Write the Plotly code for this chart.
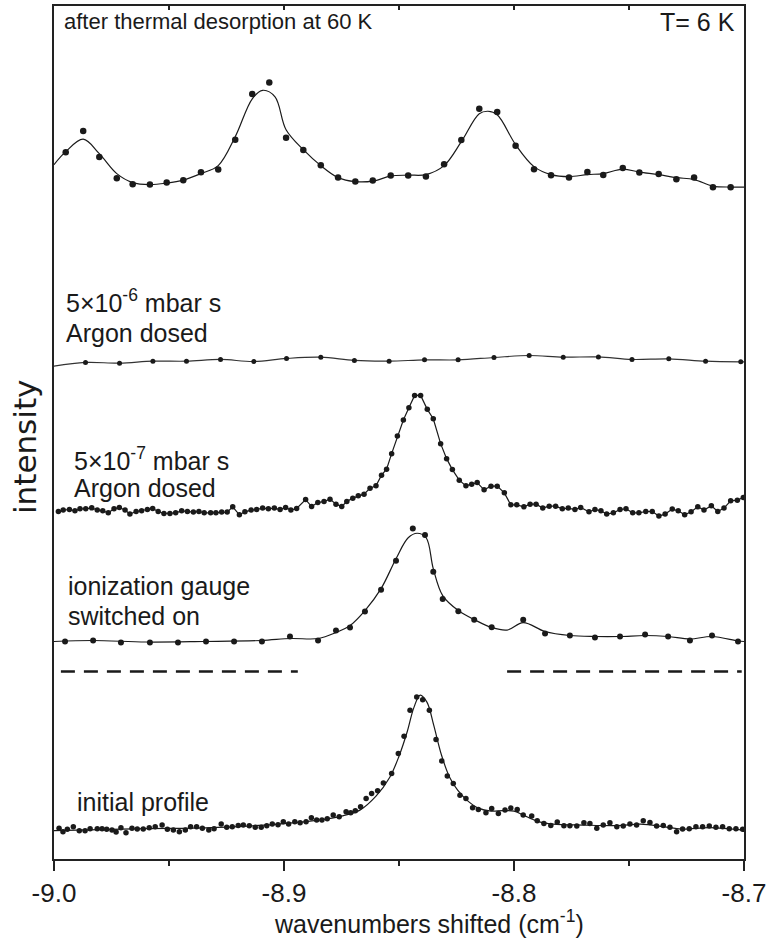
import plotly.graph_objects as go

# ---------------------------------------------------------------------------
# Spectra (wavenumber shift in cm^-1, intensity in arbitrary units above each
# spectrum's own baseline). Dots are measured points, *_fit are the fitted
# profiles drawn as thin curves.
# ---------------------------------------------------------------------------

# after thermal desorption at 60 K
thermal_x = [-8.9949, -8.9873, -8.9803, -8.9727, -8.9658, -8.9583, -8.9510, -8.9438,
             -8.9361, -8.9286, -8.9212, -8.9138, -8.9064, -8.8991, -8.8916, -8.8840,
             -8.8765, -8.8690, -8.8614, -8.8536, -8.8460, -8.8383, -8.8304, -8.8229,
             -8.8151, -8.8073, -8.7993, -8.7913, -8.7839, -8.7761, -8.7681, -8.7612,
             -8.7527, -8.7455, -8.7371, -8.7294, -8.7217, -8.7135, -8.7058]
thermal_y = [35.3, 56.7, 30.7, 9.3, 3.3, 3.0, 5.0, 7.3, 15.3, 18.0, 48.0, 93.7, 105.3,
             50.0, 37.7, 22.3, 10.0, 6.0, 7.0, 12.0, 12.0, 11.0, 23.3, 47.7, 79.0, 75.7,
             42.0, 18.3, 12.3, 10.0, 15.7, 12.7, 19.7, 15.0, 13.7, 8.3, 10.0, 0.3, 0.3]
thermal_fit_x = [-9.0, -8.9949, -8.9873, -8.9803, -8.9727, -8.9658, -8.9583, -8.9510,
                 -8.9438, -8.9361, -8.9286, -8.9212, -8.9138, -8.9093, -8.9039, -8.8991,
                 -8.8916, -8.8840, -8.8765, -8.8690, -8.8614, -8.8536, -8.8460, -8.8383,
                 -8.8304, -8.8229, -8.8151, -8.8113, -8.8073, -8.7993, -8.7913, -8.7839,
                 -8.7761, -8.7681, -8.7612, -8.7527, -8.7455, -8.7371, -8.7294, -8.7217,
                 -8.7135, -8.7058, -8.7]
thermal_fit_y = [23, 36, 48.5, 34, 14, 5, 3, 4.5, 7.5, 14, 22, 51, 89, 97.5, 91, 58,
                 38, 22, 10, 6, 6.5, 11.5, 12.5, 13, 22, 46, 74, 76.5, 73, 43, 21, 13,
                 11, 13, 14, 18.5, 15.5, 13, 10, 8, 1.5, 0.5, 0.5]

# 5x10^-6 mbar s Argon dosed
argon6_x = [-8.9863, -8.9715, -8.9570, -8.9424, -8.9276, -8.9131, -8.8989, -8.8840,
            -8.8694, -8.8543, -8.8389, -8.8243, -8.8087, -8.7934, -8.7786, -8.7633,
            -8.7487, -8.7327, -8.7167, -8.7014]
argon6_y = [0.7, 0.0, 2.0, 2.0, 3.7, 1.7, 4.7, 6.0, 2.7, 2.0, 3.3, 3.3, 5.7, 7.7, 6.0,
            6.3, 3.7, 4.3, 2.0, 1.3]
argon6_fit_x = [-9.0] + argon6_x + [-8.7]
argon6_fit_y = [-3.0] + argon6_y + [1.3]

# 5x10^-7 mbar s Argon dosed
argon7_x = [-8.9981, -8.9960, -8.9933, -8.9909, -8.9887, -8.9862, -8.9836, -8.9812,
            -8.9788, -8.9764, -8.9739, -8.9716, -8.9691, -8.9670, -8.9643, -8.9619,
            -8.9594, -8.9571, -8.9547, -8.9522, -8.9496, -8.9471, -8.9445, -8.9420,
            -8.9394, -8.9370, -8.9347, -8.9319, -8.9296, -8.9271, -8.9247, -8.9223,
            -8.9194, -8.9170, -8.9143, -8.9119, -8.9093, -8.9068, -8.9042, -8.9017,
            -8.8993, -8.8970, -8.8945, -8.8906, -8.8880, -8.8853, -8.8826, -8.8800,
            -8.8774, -8.8749, -8.8727, -8.8701, -8.8677, -8.8652, -8.8626, -8.8600,
            -8.8576, -8.8554, -8.8532, -8.8507, -8.8481, -8.8457, -8.8432, -8.8406,
            -8.8377, -8.8351, -8.8319, -8.8293, -8.8268, -8.8238, -8.8209, -8.8184,
            -8.8160, -8.8130, -8.8100, -8.8073, -8.8042, -8.8014, -8.7988, -8.7957,
            -8.7930, -8.7904, -8.7875, -8.7847, -8.7819, -8.7790, -8.7764, -8.7735,
            -8.7710, -8.7674, -8.7648, -8.7622, -8.7597, -8.7568, -8.7539, -8.7513,
            -8.7484, -8.7457, -8.7427, -8.7399, -8.7370, -8.7343, -8.7312, -8.7286,
            -8.7258, -8.7230, -8.7201, -8.7174, -8.7142, -8.7114, -8.7087, -8.7058,
            -8.7029, -8.7003]
argon7_y = [2.3, 3.7, 4.3, 3.0, 5.0, 5.0, 6.0, 3.7, 3.0, 1.0, 5.0, 6.3, 3.7, -0.3, 2.3,
            3.0, 4.3, 5.3, 2.3, 0.3, 0.3, 1.0, 3.0, 2.3, 1.7, 2.3, 1.0, 1.0, 1.0, 1.7,
            1.7, 7.0, -1.0, 2.0, 3.7, 4.3, 5.7, 5.0, 5.7, 4.3, 6.3, 3.7, 5.3, 14.3, 7.3,
            11.3, 12.3, 14.7, 9.7, 7.3, 12.3, 15.7, 18.0, 19.7, 25.7, 28.0, 38.7, 44.7,
            60.3, 78.0, 94.0, 106.3, 118.7, 118.7, 104.7, 95.3, 70.3, 55.3, 44.3, 33.7,
            28.0, 29.7, 31.3, 24.0, 27.7, 27.7, 21.0, 9.0, 9.0, 7.0, 9.7, 9.7, 5.7, 7.7,
            7.7, 5.0, 5.7, 4.3, 6.3, 2.0, 4.3, 3.0, -0.3, 1.0, 4.3, 5.0, 1.0, 1.0, 2.3,
            2.3, -2.3, -0.3, 4.7, 3.0, -1.0, 2.0, 7.0, 3.7, 8.0, 2.3, 5.7, 13.0, 13.7,
            16.3]

# ionization gauge switched on
gauge_x = [-8.9952, -8.9830, -8.9709, -8.9583, -8.9461, -8.9339, -8.9217, -8.9096,
           -8.8974, -8.8852, -8.8774, -8.8713, -8.8648, -8.8578, -8.8513, -8.8440,
           -8.8387, -8.8351, -8.8310, -8.8242, -8.8173, -8.8097, -8.7960, -8.7865,
           -8.7757, -8.7648, -8.7539, -8.7430, -8.7330, -8.7235, -8.7139, -8.7026]
gauge_y = [1, 2, 0, 0, 0, 1, 1, 1, 6, 2, 12, 15, 31, 53, 82, 114.3, 107.7, 71, 43.7,
           31.3, 22.7, 15.3, 22.7, 9, 7, 5, 6, 8, 6, 2, 7, 1]
gauge_fit_x = [-9.0, -8.983, -8.96, -8.935, -8.91, -8.897, -8.885, -8.8774, -8.8713,
               -8.8648, -8.8578, -8.8513, -8.846, -8.8421, -8.8382, -8.8351, -8.8310,
               -8.8242, -8.8173, -8.8097, -8.8030, -8.7960, -8.7865, -8.7757, -8.7648,
               -8.7539, -8.7430, -8.7330, -8.7235, -8.7139, -8.7026, -8.7]
gauge_fit_y = [1, 2, 0.5, 1, 2, 4, 4, 10, 17, 32, 54, 84, 105, 109.5, 105, 74, 47, 32,
               23, 15, 12.5, 20, 11, 7, 6, 6, 7, 6, 3.5, 6, 1.5, 1]

# initial profile
initial_x = [-8.9978, -8.9961, -8.9942, -8.9916, -8.9890, -8.9865, -8.9843, -8.9812,
             -8.9791, -8.9771, -8.9748, -8.9730, -8.9709, -8.9687, -8.9661, -8.9638,
             -8.9612, -8.9586, -8.9560, -8.9530, -8.9507, -8.9481, -8.9455, -8.9429,
             -8.9406, -8.9380, -8.9355, -8.9327, -8.9304, -8.9273, -8.9249, -8.9225,
             -8.9199, -8.9177, -8.9151, -8.9125, -8.9099, -8.9075, -8.9051, -8.9026,
             -8.9003, -8.8980, -8.8953, -8.8930, -8.8904, -8.8881, -8.8858, -8.8835,
             -8.8812, -8.8786, -8.8760, -8.8730, -8.8710, -8.8690, -8.8667, -8.8643,
             -8.8619, -8.8593, -8.8568, -8.8532, -8.8503, -8.8478, -8.8452, -8.8423,
             -8.8397, -8.8368, -8.8339, -8.8314, -8.8290, -8.8264, -8.8235, -8.8209,
             -8.8180, -8.8155, -8.8122, -8.8097, -8.8068, -8.8039, -8.8014, -8.7986,
             -8.7960, -8.7923, -8.7899, -8.7870, -8.7840, -8.7812, -8.7783, -8.7757,
             -8.7727, -8.7696, -8.7670, -8.7640, -8.7612, -8.7583, -8.7553, -8.7525,
             -8.7496, -8.7467, -8.7438, -8.7409, -8.7380, -8.7351, -8.7322, -8.7293,
             -8.7267, -8.7238, -8.7209, -8.7180, -8.7151, -8.7122, -8.7093, -8.7064,
             -8.7035, -8.7006]
initial_y = [3.7, 0.3, 2.7, 5.3, 1.3, 1.3, 3.3, 3.3, 3.3, 2.7, 2.0, 0.0, 4.3, -0.7, 3.7,
             3.0, 3.0, 4.3, 5.3, 7.0, 2.7, 2.0, 0.3, 2.0, 5.3, 5.3, 3.7, 2.0, 3.3, 8.0,
             4.7, 5.3, 6.7, 7.0, 6.3, 4.7, 4.7, 6.3, 8.0, 7.3, 10.3, 8.0, 10.3, 9.3, 10.3,
             14.3, 12.0, 12.0, 13.3, 17.0, 15.3, 20.3, 19.3, 21.3, 25.3, 33.7, 38.7, 41.3,
             49.3, 58.7, 78.7, 96.0, 122.0, 135.3, 132.7, 122.0, 92.7, 71.3, 56.3, 48.7,
             37.0, 33.7, 24.3, 22.7, 19.3, 23.7, 18.7, 22.0, 24.0, 22.7, 17.0, 16.0, 11.3,
             8.7, 6.7, 10.0, 6.3, 6.3, 6.0, 9.3, 8.7, 3.7, 7.0, 9.3, 5.3, 6.0, 8.0, 7.0,
             11.3, 9.7, 6.0, 6.7, 4.7, 0.3, 3.0, 3.3, 5.3, 5.3, 6.0, 4.7, 5.3, 3.3, 3.3,
             2.7]
initial_fit_x = [-9.0, -8.98, -8.96, -8.94, -8.92, -8.90, -8.885, -8.875, -8.867, -8.860,
                 -8.854, -8.850, -8.8465, -8.8435, -8.8408, -8.8378, -8.835, -8.8315,
                 -8.828, -8.8245, -8.820, -8.8155, -8.810, -8.805, -8.800, -8.796, -8.790,
                 -8.783, -8.770, -8.755, -8.745, -8.735, -8.727, -8.715, -8.700]
initial_fit_y = [1.5, 2.5, 3.5, 4, 5.5, 8.5, 12, 16, 22, 36, 55, 76, 100, 125, 137.3, 130,
                 108, 77, 55, 42, 31, 24, 21, 21.5, 21, 17, 11, 8, 7, 6.5, 8, 5.5, 3, 4.5,
                 2]

# dashed reference segments between the gauge spectrum and the initial profile
dash_left_x = [-8.997, -8.894]
dash_right_x = [-8.803, -8.701]

# axis ticks
tick_values = [-9.0, -8.9, -8.8, -8.7]
tick_labels = ["-9.0", "-8.9", "-8.8", "-8.7"]
minor_tick_values = [-8.95, -8.85, -8.75]
top_tick_values = [-9.0, -8.95, -8.9, -8.85, -8.8, -8.75, -8.7]

# ---------------------------------------------------------------------------
# Vertical stacking of the spectra (baseline of each curve on the shared axis)
# ---------------------------------------------------------------------------
Y_MAX = 855
BASE_THERMAL = 673
BASE_ARGON6 = 497
BASE_ARGON7 = 346
BASE_GAUGE = 217
DASH_LEVEL = 188
BASE_INITIAL = 27

INK = "#1a1a1a"
FONT = "Liberation Sans, Arial, Helvetica, sans-serif"
WIDE_FONT = "DejaVu Sans, Liberation Sans, Arial, sans-serif"


def shift(values, base):
    return [v + base for v in values]


fig = go.Figure()


def add_fit(x, y, base, shape="spline", color=INK, width=1.2):
    fig.add_trace(go.Scatter(x=x, y=shift(y, base), mode="lines",
                             line=dict(color=color, width=width, shape=shape),
                             hoverinfo="skip", showlegend=False))


def add_points(x, y, base, size):
    fig.add_trace(go.Scatter(x=x, y=shift(y, base), mode="markers",
                             marker=dict(color=INK, size=size, line=dict(width=0)),
                             showlegend=False))


add_fit(thermal_fit_x, thermal_fit_y, BASE_THERMAL)
add_points(thermal_x, thermal_y, BASE_THERMAL, 6.5)

add_fit(argon6_fit_x, argon6_fit_y, BASE_ARGON6, color="#333333")
add_points(argon6_x, argon6_y, BASE_ARGON6, 5)

add_fit(argon7_x, argon7_y, BASE_ARGON7, shape="linear")
add_points(argon7_x, argon7_y, BASE_ARGON7, 5.5)

add_fit(gauge_fit_x, gauge_fit_y, BASE_GAUGE)
add_points(gauge_x, gauge_y, BASE_GAUGE, 6)

add_fit(initial_fit_x, initial_fit_y, BASE_INITIAL)
add_points(initial_x, initial_y, BASE_INITIAL, 5.5)

for seg in (dash_left_x, dash_right_x):
    fig.add_trace(go.Scatter(x=seg, y=[DASH_LEVEL, DASH_LEVEL], mode="lines",
                             line=dict(color=INK, width=2.5, dash="14px,9px"),
                             hoverinfo="skip", showlegend=False))

# carrier for the top axis (inner ticks on the upper frame)
fig.add_trace(go.Scatter(x=[tick_values[0]], y=[None], xaxis="x2", mode="markers",
                         showlegend=False, hoverinfo="skip"))

labels = [
    ("after thermal desorption at 60 K", -8.9965, 839, "left", 22),
    ("T= 6 K", -8.7030, 839, "right", 25),
    ("5×10<sup>-6</sup> mbar s", -8.9957, 559, "left", 25),
    ("Argon dosed", -8.9957, 527, "left", 25),
    ("5×10<sup>-7</sup> mbar s", -8.9922, 401, "left", 25),
    ("Argon dosed", -8.9922, 372, "left", 25),
    ("ionization gauge", -8.9948, 274, "left", 25),
    ("switched on", -8.9948, 244, "left", 25),
    ("initial profile", -8.9909, 57, "left", 25),
]
for text, x, y, anchor, size in labels:
    fig.add_annotation(x=x, y=y, xref="x", yref="y", text=text, showarrow=False,
                       xanchor=anchor, yanchor="middle",
                       font=dict(family=FONT, size=size, color=INK))

# axis titles
fig.add_annotation(x=0.5435, y=-0.094, xref="paper", yref="paper",
                   text="wavenumbers shifted (cm<sup>-1</sup>)", showarrow=False,
                   xanchor="center", yanchor="bottom", borderpad=0,
                   font=dict(family=FONT, size=25, color=INK))
fig.add_annotation(x=-0.042, y=0.483, xref="paper", yref="paper",
                   text="intensity", textangle=-90, showarrow=False,
                   xanchor="center", yanchor="middle",
                   font=dict(family=WIDE_FONT, size=31, color=INK))

fig.update_layout(
    width=770, height=940,
    margin=dict(l=54, r=26, t=4, b=81),
    paper_bgcolor="white", plot_bgcolor="white",
    showlegend=False,
    font=dict(family=FONT, color=INK),
    xaxis=dict(
        range=[-9.0, -8.7], showgrid=False, zeroline=False,
        showline=True, linewidth=2, linecolor="#222222", mirror=True,
        ticks="outside", ticklen=10, tickwidth=2, tickcolor="#222222",
        tickvals=tick_values, ticktext=tick_labels,
        tickfont=dict(family=FONT, size=26, color=INK),
        minor=dict(tickvals=minor_tick_values, ticks="outside", ticklen=5,
                   tickwidth=2, tickcolor="#222222", showgrid=False),
    ),
    xaxis2=dict(
        range=[-9.0, -8.7], overlaying="x", side="top", anchor="y",
        showgrid=False, zeroline=False, showline=False, showticklabels=False,
        ticks="inside", ticklen=4, tickwidth=1.5, tickcolor="#222222",
        tickvals=top_tick_values,
    ),
    yaxis=dict(
        range=[0, Y_MAX], showgrid=False, zeroline=False,
        showline=True, linewidth=2, linecolor="#222222", mirror=True,
        ticks="", showticklabels=False,
    ),
)

fig.write_html("out.html")
